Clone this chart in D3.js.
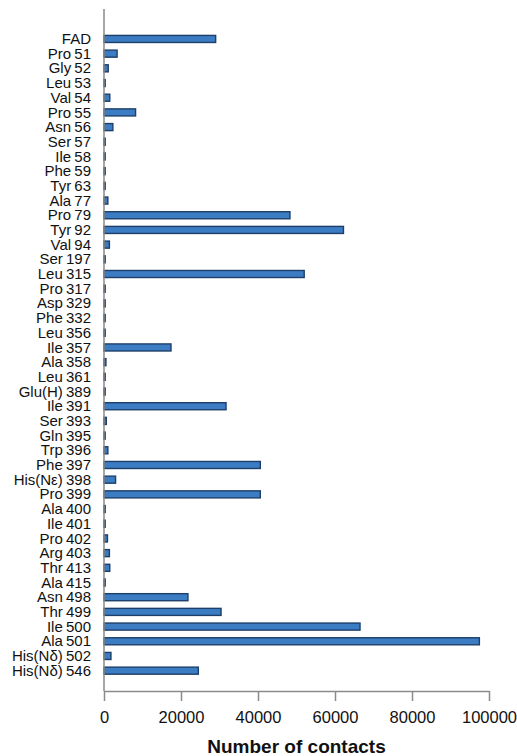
<!DOCTYPE html>
<html>
<head>
<meta charset="utf-8">
<script src="https://cdn.jsdelivr.net/npm/d3@7"></script>
<style>
  body { margin: 0; background: #fff; }
  text { font-family: "Liberation Sans", Arial, sans-serif; }
</style>
</head>
<body>
<div id="chart"></div>
<script>
const residues = ["FAD", "Pro 51", "Gly 52", "Leu 53", "Val 54", "Pro 55", "Asn 56", "Ser 57",
  "Ile 58", "Phe 59", "Tyr 63", "Ala 77", "Pro 79", "Tyr 92", "Val 94", "Ser 197", "Leu 315",
  "Pro 317", "Asp 329", "Phe 332", "Leu 356", "Ile 357", "Ala 358", "Leu 361", "Glu(H) 389",
  "Ile 391", "Ser 393", "Gln 395", "Trp 396", "Phe 397", "His(Nε) 398", "Pro 399", "Ala 400",
  "Ile 401", "Pro 402", "Arg 403", "Thr 413", "Ala 415", "Asn 498", "Thr 499", "Ile 500",
  "Ala 501", "His(Nδ) 502", "His(Nδ) 546"]
const contacts = [29000, 3400, 1100, 300, 1500, 8200, 2300, 300,
  300, 300, 300, 1000, 48300, 62200, 1400, 300, 52000,
  300, 300, 300, 300, 17400, 500, 300, 300,
  31700, 600, 300, 1000, 40600, 3000, 40600, 300,
  300, 900, 1400, 1500, 300, 21800, 30400, 66500,
  97500, 1800, 24500]
const xTicks = [0, 20000, 40000, 60000, 80000, 100000]

const W = 517, H = 756
const margin = ({top: 9, right: 28, bottom: 65, left: 104})
const plotW = W - margin.left - margin.right
const plotH = H - margin.top - margin.bottom

const data = residues.map((r, i) => ({name: r, value: contacts[i]}))

const svg = d3.select("#chart").append("svg")
    .attr("width", W)
    .attr("height", H)

const g = svg.append("g")
    .attr("transform", `translate(${margin.left},${margin.top})`)

const x = d3.scaleLinear().domain([0, 100000]).range([0, 385])
const y = d3.scaleBand()
    .domain(residues)
    .range([22.6, 669])
    .paddingInner(0.52)
    .paddingOuter(0.26)

// bars
g.selectAll(".bar")
    .data(data)
    .join("rect")
    .attr("class", "bar")
    .attr("x", x(0))
    .attr("y", d => y(d.name))
    .attr("width", d => x(d.value) - x(0))
    .attr("height", y.bandwidth())
    .attr("fill", "#3b7cc3")
    .attr("stroke", "#1e3f69")
    .attr("stroke-width", 1.4)

// category labels
g.selectAll(".lab")
    .data(data)
    .join("text")
    .attr("class", "lab")
    .attr("x", -13)
    .attr("y", d => y(d.name) + y.bandwidth() / 2)
    .attr("dy", "0.34em")
    .attr("text-anchor", "end")
    .attr("font-size", 15)
    .attr("word-spacing", "-1px")
    .attr("fill", "#111")
    .text(d => d.name)

// left axis line
g.append("line")
    .attr("x1", 0).attr("x2", 0)
    .attr("y1", 0).attr("y2", plotH)
    .attr("stroke", "#8a8a8a")
    .attr("stroke-width", 1.5)

// bottom axis
const xAxis = d3.axisBottom(x)
    .tickValues(xTicks)
    .tickFormat(d3.format("d"))
    .tickSize(10)
    .tickSizeOuter(0)
    .tickPadding(10)

const ax = g.append("g")
    .attr("class", "x-axis")
    .attr("transform", `translate(0,${plotH})`)
    .call(xAxis)

ax.select(".domain").attr("stroke", "#8a8a8a").attr("stroke-width", 1.5)
ax.selectAll(".tick line").attr("stroke", "#8a8a8a").attr("stroke-width", 1.5)
ax.selectAll(".tick text")
    .attr("font-size", 16.5)
    .attr("font-family", "'Liberation Sans', Arial, sans-serif")
    .attr("fill", "#111")

// axis title
svg.append("text")
    .attr("x", margin.left + x(50000))
    .attr("y", 753)
    .attr("text-anchor", "middle")
    .attr("font-size", 19)
    .attr("font-weight", "bold")
    .attr("fill", "#111")
    .text("Number of contacts")
</script>
</body>
</html>
